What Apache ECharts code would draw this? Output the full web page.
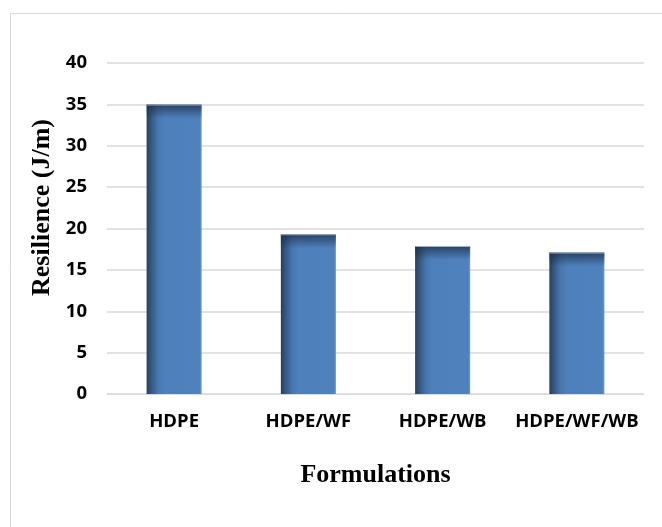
<!DOCTYPE html>
<html>
<head>
<meta charset="utf-8">
<script src="https://cdn.jsdelivr.net/npm/echarts@6/dist/echarts.min.js"></script>
<style>
  html, body { margin: 0; padding: 0; background: #ffffff; }
  #chart { width: 662px; height: 527px; }
</style>
</head>
<body>
<div id="chart"></div>
<script>
// Impact resilience per formulation
const categories = ['HDPE', 'HDPE/WF', 'HDPE/WB', 'HDPE/WF/WB'];
const resilience = [35, 19.3, 17.9, 17.1];
const yTicks = [0, 5, 10, 15, 20, 25, 30, 35, 40];

const chart = echarts.init(document.getElementById('chart'));

const tickFont = { fontFamily: '"Open Sans", sans-serif', fontWeight: 'bold', fontSize: 18.5, color: '#000' };
const titleFont = { fontFamily: '"Liberation Serif", "Times New Roman", serif', fontWeight: 'bold', fontSize: 26, color: '#000' };

function renderBar(params, api) {
  const top = api.coord([api.value(0), api.value(1)]);
  const base = api.coord([api.value(0), 0]);
  const w = api.size([1, 0])[0] * 0.41;
  const x = top[0] - w / 2;
  const h = base[1] - top[1];
  const edge = Math.min(14, h);
  return {
    type: 'group',
    children: [
      {
        type: 'rect',
        shape: { x: x, y: top[1], width: w, height: h },
        style: {
          fill: new echarts.graphic.LinearGradient(0, 0, 1, 0, [
            { offset: 0, color: '#273f60' },
            { offset: 0.08, color: '#34577f' },
            { offset: 0.2, color: '#4676ad' },
            { offset: 0.32, color: '#4e80bb' },
            { offset: 0.96, color: '#4f81bd' },
            { offset: 1, color: '#6a98cf' }
          ])
        }
      },
      {
        type: 'rect',
        shape: { x: x, y: top[1], width: w, height: edge },
        style: {
          fill: new echarts.graphic.LinearGradient(0, 0, 0, 1, [
            { offset: 0, color: 'rgba(28,45,72,0.75)' },
            { offset: 1, color: 'rgba(28,45,72,0)' }
          ])
        }
      },
      {
        type: 'rect',
        shape: { x: x, y: top[1], width: w, height: 1 },
        style: { fill: 'rgba(190,200,215,0.8)' }
      }
    ]
  };
}

chart.setOption({
  backgroundColor: '#ffffff',
  animation: false,
  graphic: [
    {
      type: 'rect',
      shape: { x: 10.5, y: 13.5, width: 700, height: 600 },
      style: { fill: 'none', stroke: '#d9d9d9', lineWidth: 1 },
      z: -1
    }
  ],
  grid: { left: 107, right: 18, top: 63, bottom: 133 },
  xAxis: {
    type: 'category',
    data: categories,
    name: 'Formulations',
    nameLocation: 'middle',
    nameGap: 68,
    nameTextStyle: titleFont,
    axisLine: { show: true, lineStyle: { color: '#d9d9d9', width: 1 } },
    axisTick: { show: false },
    axisLabel: Object.assign({ margin: 18, interval: 0 }, tickFont)
  },
  yAxis: {
    type: 'value',
    min: yTicks[0],
    max: yTicks[yTicks.length - 1],
    interval: yTicks[1] - yTicks[0],
    name: 'Resilience (J/m)',
    nameLocation: 'middle',
    nameRotate: 90,
    nameGap: 51,
    nameTextStyle: Object.assign({ padding: [0, 0, 0, 42] }, titleFont),
    axisLine: { show: false },
    axisTick: { show: false },
    axisLabel: Object.assign({ margin: 20 }, tickFont),
    splitLine: { show: true, lineStyle: { color: '#d9d9d9', width: 1.5 } }
  },
  series: [
    {
      type: 'custom',
      renderItem: renderBar,
      encode: { x: 0, y: 1 },
      data: categories.map((c, i) => [i, resilience[i]])
    }
  ]
});
</script>
</body>
</html>
